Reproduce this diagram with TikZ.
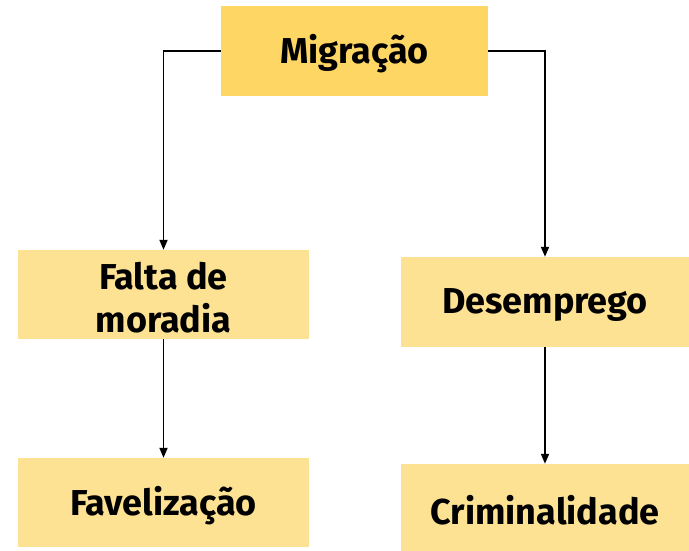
\documentclass[tikz,border=0pt]{standalone}
\usepackage{fontspec}
\setmainfont{Fira Sans}
\usetikzlibrary{arrows.meta}
\definecolor{topfill}{HTML}{FDD663}
\definecolor{boxfill}{HTML}{FDE293}
\newcommand{\lowtxt}[1]{\raisebox{-3pt}[\height][\depth]{#1}}
\begin{document}
\begin{tikzpicture}[x=1pt,y=-1pt,
  box/.style={fill=boxfill, draw=none, inner sep=0pt, align=center,
    font=\fontsize{36}{43}\selectfont\bfseries},
  arr/.style={draw=black, line width=1.8pt, -{Triangle[length=10pt,width=8pt]}}]
\useasboundingbox (0,0) rectangle (689,551);
\node[box, fill=topfill, minimum width=267pt, minimum height=90pt] (mig) at (354.5,51) {\lowtxt{Migração}};
\node[box, minimum width=291pt, minimum height=89pt] (falta) at (163.5,294.5) {\lowtxt{Falta de}\\\lowtxt{moradia}};
\node[box, minimum width=288pt, minimum height=90pt] (des) at (545,302) {\lowtxt{Desemprego}};
\node[box, minimum width=291pt, minimum height=89pt] (fav) at (163.5,502.5) {\lowtxt{Favelização}};
\node[box, minimum width=288pt, minimum height=87pt] (crim) at (545,507.5) {\lowtxt{Criminalidade}};
\draw[arr] (mig.west) -| (falta.north);
\draw[arr] (mig.east) -| (des.north);
\draw[arr] (falta.south) -- (fav.north);
\draw[arr] (des.south) -- (crim.north);
\end{tikzpicture}
\end{document}
